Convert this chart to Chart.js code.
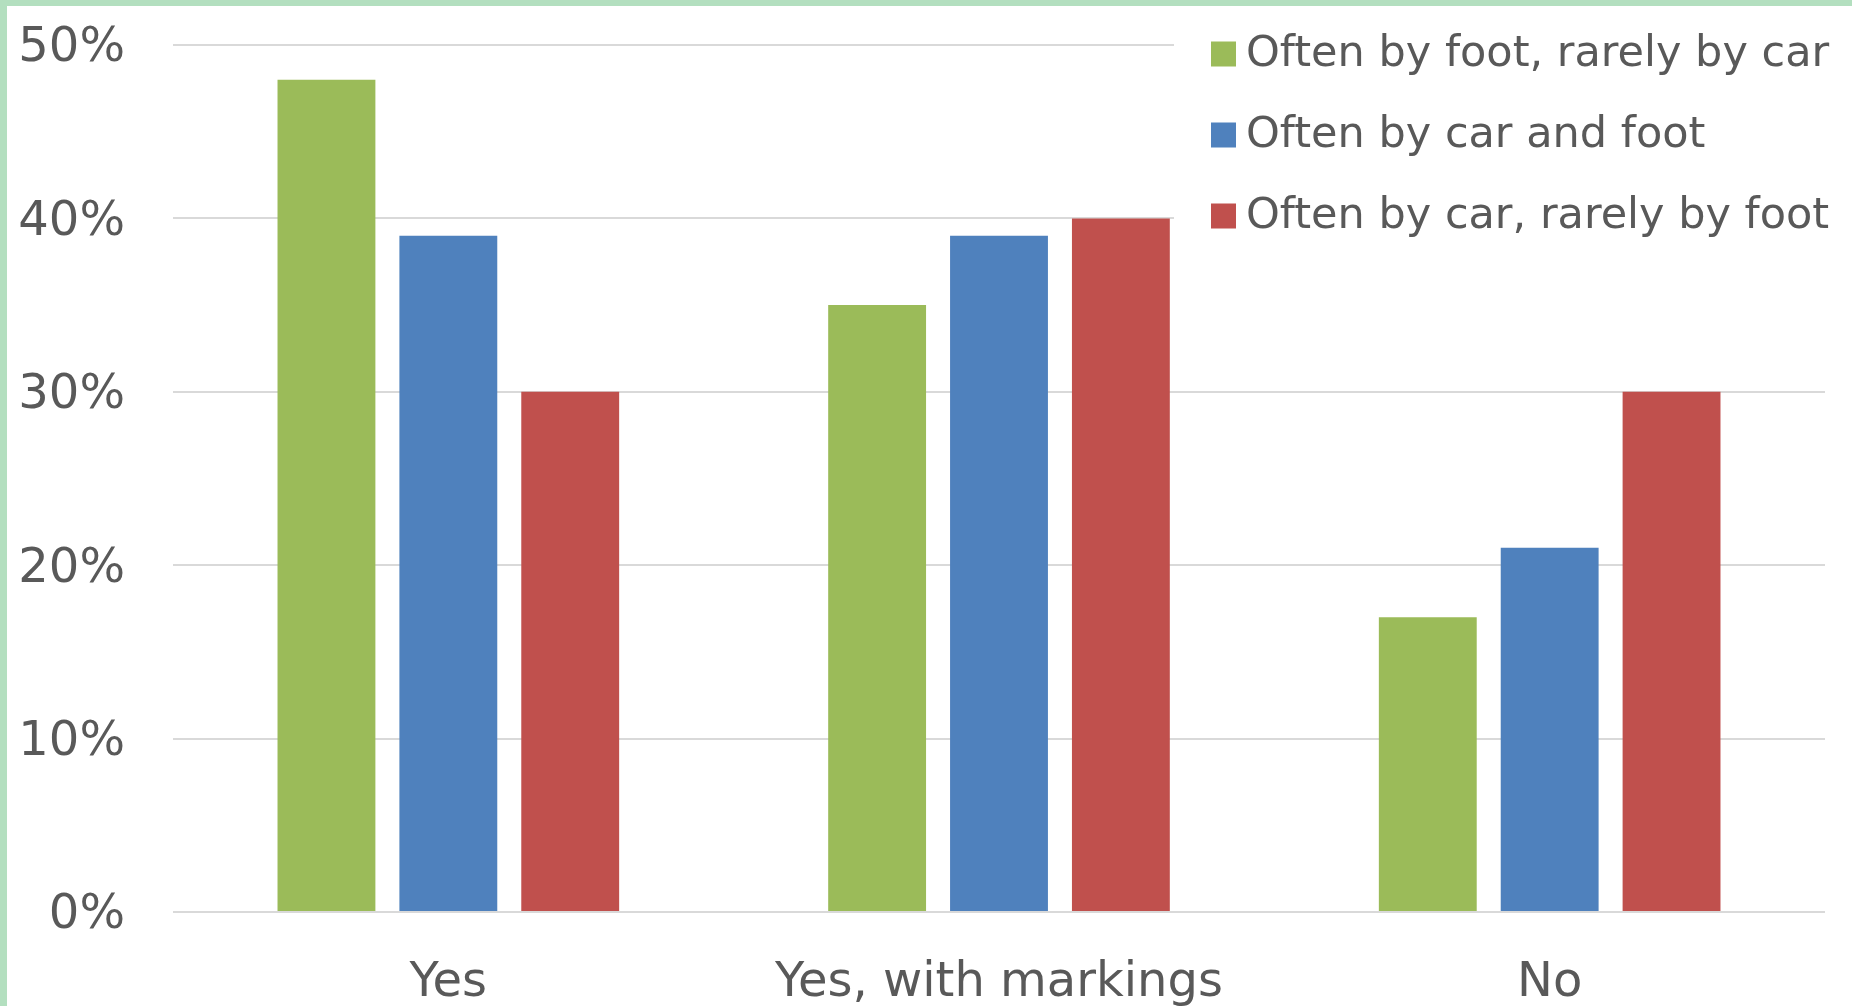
<!DOCTYPE html>
<html>
<head>
<meta charset="utf-8">
<title>Crossing habits</title>
<script src="https://cdn.jsdelivr.net/npm/chart.js@4.4.1/dist/chart.umd.min.js"></script>
<style>
    html, body {
        margin: 0;
        padding: 0;
        background: #fff;
        overflow: hidden;
    }
    .frame {
        position: absolute;
        left: 0;
        top: 0;
        width: 1845px;
        height: 1000px;
        border-top: 6px solid #b3dfbf;
        border-left: 7px solid #b3dfbf;
        background: #fff;
    }
    canvas {
        display: block;
    }
</style>
</head>
<body>
<div class="frame">
    <canvas id="crossingChart" width="1845" height="1000"></canvas>
</div>

<script>
// Chart data
const categories = ['Yes', 'Yes, with markings', 'No'];
const seriesNames = ['Often by foot, rarely by car', 'Often by car and foot', 'Often by car, rarely by foot'];
const footRarelyCar = [48, 35, 17];
const carAndFoot = [39, 39, 21];
const carRarelyFoot = [30, 40, 30];
const yTicks = [0, 10, 20, 30, 40, 50];

const seriesColors = ['#9bbb59', '#4f81bd', '#c0504d'];
const textColor = '#595959';
const fontFamily = '"DejaVu Sans", sans-serif';

// =====================
// Legend drawn over the top-right of the plot (white box hides gridlines)
// =====================
const legendBox = {
    id: 'legendBox',
    afterDraw(chart) {
        const ctx = chart.ctx;
        const boxLeft = 1167;
        const squareX = 1204;
        const firstY = 48;
        const rowGap = 81;
        const square = 25;

        ctx.save();
        ctx.fillStyle = '#ffffff';
        ctx.fillRect(boxLeft, 0, chart.width - boxLeft, 245);

        ctx.font = '43px ' + fontFamily;
        ctx.textBaseline = 'middle';
        ctx.textAlign = 'left';

        chart.data.datasets.forEach(function(ds, i) {
            const y = firstY + i * rowGap;
            ctx.fillStyle = ds.backgroundColor;
            ctx.fillRect(squareX, y - square / 2, square, square);
            ctx.fillStyle = textColor;
            ctx.fillText(ds.label, squareX + square + 10, y + 1);
        });
        ctx.restore();
    }
};

(function() {
    const ctx = document.getElementById('crossingChart');
    if (!ctx || typeof Chart === 'undefined') return;

    const values = [footRarelyCar, carAndFoot, carRarelyFoot];

    new Chart(ctx, {
        type: 'bar',
        data: {
            labels: categories,
            datasets: values.map(function(data, i) {
                return {
                    label: seriesNames[i],
                    data: data,
                    backgroundColor: seriesColors[i],
                    borderWidth: 0,
                    barPercentage: 0.803,
                    categoryPercentage: 0.664
                };
            })
        },
        options: {
            responsive: false,
            maintainAspectRatio: false,
            animation: false,
            devicePixelRatio: 1,
            layout: {
                padding: { top: 39, right: 27, bottom: 0, left: 0 }
            },
            plugins: {
                legend: { display: false },
                tooltip: { enabled: false }
            },
            scales: {
                x: {
                    grid: { display: false },
                    border: { display: false },
                    ticks: {
                        color: textColor,
                        padding: 35,
                        font: { family: fontFamily, size: 48 }
                    },
                    afterFit: function(scale) {
                        scale.height = 94;
                    }
                },
                y: {
                    min: 0,
                    max: 50,
                    afterBuildTicks: function(scale) {
                        scale.ticks = yTicks.map(v => ({ value: v }));
                    },
                    grid: {
                        color: '#d9d9d9',
                        lineWidth: 2,
                        drawTicks: true,
                        tickLength: 48,
                        tickColor: 'rgba(0,0,0,0)'
                    },
                    border: { display: false },
                    ticks: {
                        color: textColor,
                        padding: 0,
                        labelOffset: 4,
                        font: { family: fontFamily, size: 48 },
                        callback: function(value) {
                            return value + '%';
                        }
                    },
                    afterFit: function(scale) {
                        scale.width = 166;
                    }
                }
            }
        },
        plugins: [legendBox]
    });
})();
</script>
</body>
</html>
